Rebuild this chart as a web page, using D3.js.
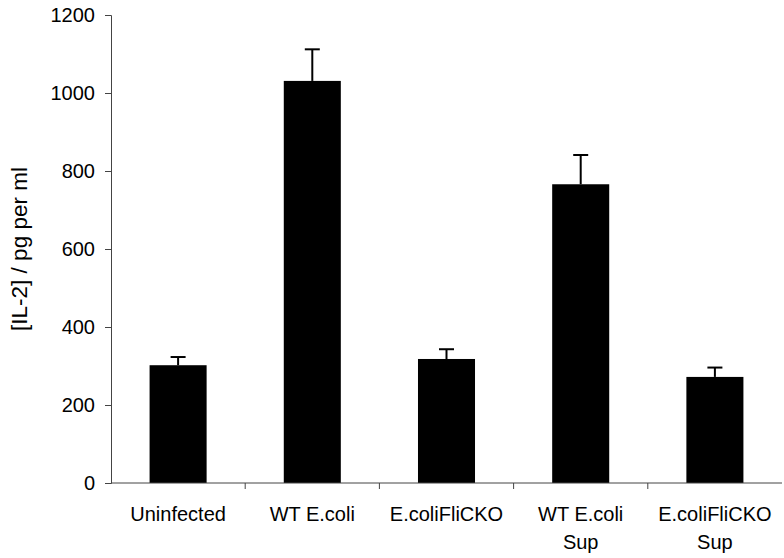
<!DOCTYPE html>
<html>
<head>
<meta charset="utf-8">
<script src="https://cdn.jsdelivr.net/npm/d3@7"></script>
<style>
  body { margin: 0; background: #fff; }
  text { font-family: "Liberation Sans", Arial, sans-serif; }
</style>
</head>
<body>
<div id="chart"></div>
<script>
// data
const categories = ["Uninfected", "WT E.coli", "E.coliFliCKO", "WT E.coli\nSup", "E.coliFliCKO\nSup"];
const means = [302, 1031, 318, 766, 272];
const upperErr = [323, 1112, 343, 841, 296];
const yTicks = [0, 200, 400, 600, 800, 1000, 1200];

const width = 784;
const height = 558;
const margin = { top: 15, right: 2, bottom: 75, left: 111 };

const svg = d3.select('#chart')
              .append("svg")
              .attr("width", width)
              .attr("height", height);

const xScale = d3.scaleBand()
                 .domain(categories)
                 .range([margin.left, width - margin.right])
                 .paddingInner(0.575)
                 .paddingOuter(0.2875);

const yScale = d3.scaleLinear()
                 .domain([0, 1200])
                 .range([height - margin.bottom, margin.top]);

// bars
svg.selectAll("rect.bar")
   .data(means)
   .enter()
   .append("rect")
   .attr("class", "bar")
   .attr("x", (d, i) => xScale(categories[i]))
   .attr("y", d => yScale(d))
   .attr("width", xScale.bandwidth())
   .attr("height", d => yScale(0) - yScale(d))
   .attr("fill", "#000");

// error bars (upper only)
const capHalf = 7.5;
const errG = svg.append("g").attr("stroke", "#000").attr("stroke-width", 2);
upperErr.forEach((e, i) => {
  const cx = xScale(categories[i]) + xScale.bandwidth() / 2;
  errG.append("line")
      .attr("x1", cx).attr("x2", cx)
      .attr("y1", yScale(means[i])).attr("y2", yScale(e));
  errG.append("line")
      .attr("x1", cx - capHalf).attr("x2", cx + capHalf)
      .attr("y1", yScale(e)).attr("y2", yScale(e));
});

// y axis
const yAxis = d3.axisLeft(yScale)
                .tickValues(yTicks)
                .tickSize(6)
                .tickPadding(10)
                .tickFormat(d3.format("d"));

const yG = svg.append("g")
   .attr("transform", `translate(${margin.left},0)`)
   .call(yAxis);
yG.select(".domain").attr("stroke", "#444");
yG.selectAll(".tick line").attr("stroke", "#444");
yG.selectAll("text").style("font-size", "20px").attr("fill", "#000");

// x axis: line, separator ticks, labels
const x0 = margin.left, x1 = width - margin.right, y0 = yScale(0);
svg.append("line")
   .attr("x1", x0).attr("x2", x1)
   .attr("y1", y0).attr("y2", y0)
   .attr("stroke", "#444");

const step = xScale.step();
categories.slice(1).forEach((c, i) => {
  const tx = margin.left + step * (i + 1);
  svg.append("line")
     .attr("x1", tx).attr("x2", tx)
     .attr("y1", y0).attr("y2", y0 + 6)
     .attr("stroke", "#444");
});

const labels = svg.append("g")
   .selectAll("text")
   .data(categories)
   .enter()
   .append("text")
   .attr("text-anchor", "middle")
   .style("font-size", "20px")
   .attr("fill", "#000");

labels.each(function(d) {
  const cx = xScale(d) + xScale.bandwidth() / 2;
  d.split("\n").forEach((line, k) => {
    d3.select(this).append("tspan")
      .attr("x", cx)
      .attr("y", y0 + 38 + k * 28)
      .text(line);
  });
});

// y axis title
svg.append("text")
   .attr("transform", `translate(27,${(margin.top + y0) / 2}) rotate(-90)`)
   .attr("text-anchor", "middle")
   .style("font-size", "22.5px")
   .text("[IL-2] / pg per ml");
</script>
</body>
</html>
